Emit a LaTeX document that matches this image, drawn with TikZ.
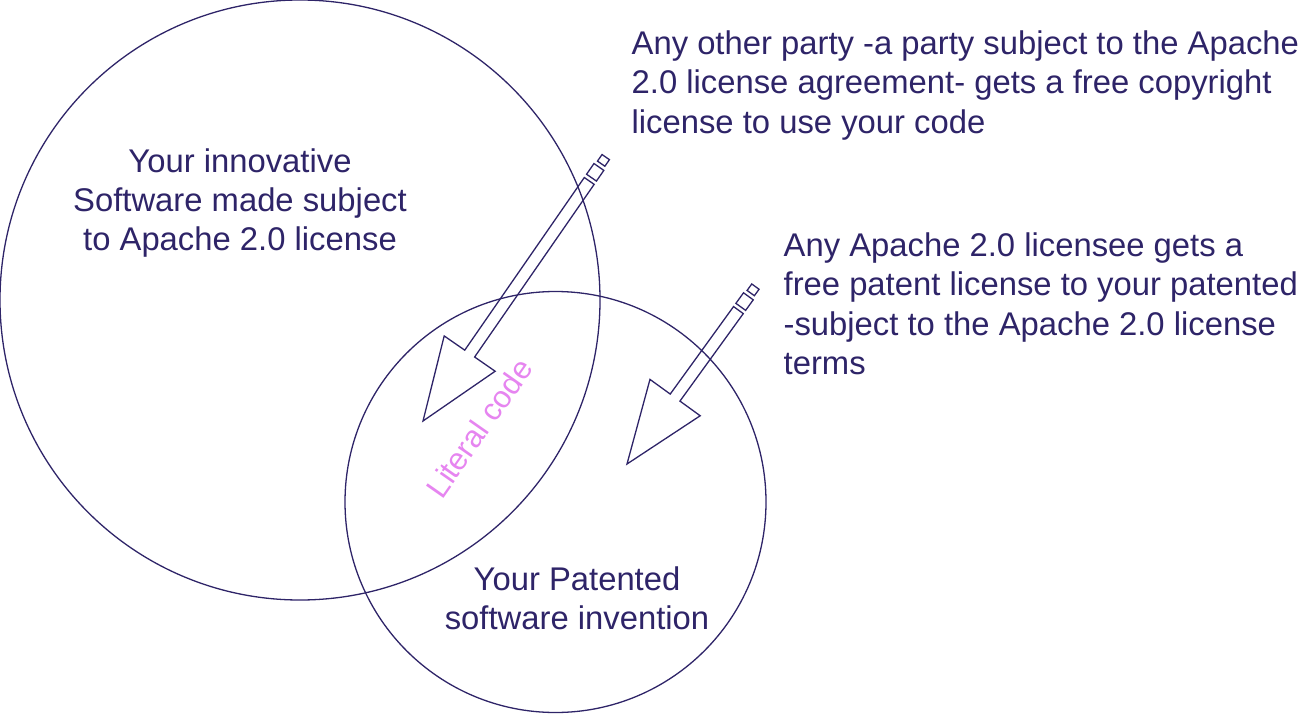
\documentclass[tikz,border=0pt]{standalone}
\usepackage{fontspec}
\setmainfont{Liberation Sans}
\definecolor{navy}{HTML}{2E2468}
\definecolor{pink}{HTML}{E685F0}
\begin{document}
\begin{tikzpicture}[x=1pt,y=-1pt,line width=1.3pt,
  lbl/.style={font=\fontsize{32.8}{39.3}\selectfont,text=navy,inner sep=0pt},
  ring/.style={draw=navy,circle,minimum size=#1,inner sep=0pt},
  blk/.style={draw=navy,line join=miter}]
\useasboundingbox (0,0) rectangle (1308,714);
\node[ring=600pt] (big) at (300,300) {};
\node[ring=421pt] (small) at (555.5,502) {};
\node[lbl,align=center] (t1) at (240,203) {Your innovative\\Software made subject\\to Apache 2.0 license};
\node[lbl,align=center] (t2) at (577,598) {Your Patented\\software invention};
\node[lbl,align=left,anchor=north west] (t3) at (631,30) {Any other party -a party subject to the Apache\\2.0 license agreement- gets a free copyright\\license to use your code};
\node[lbl,align=left,anchor=north west] (t4) at (783,232) {Any Apache 2.0 licensee gets a\\free patent license to your patented\\-subject to the Apache 2.0 license\\terms};
\node[lbl,text=pink,rotate=55,font=\fontsize{31}{36}\selectfont] (lit) at (479,428) {Literal code};
% arrow 1
\begin{scope}[shift={(423,421)},rotate=55.3]
\draw[blk] (0,0) -- (82,31) -- (82,6) -- (292,6) -- (292,-6) -- (82,-6) -- (82,-31) -- cycle;
\draw[blk] (296,6) rectangle (309,-6);
\draw[blk] (313,4.5) rectangle (321,-4.5);
\end{scope}
% arrow 2
\begin{scope}[shift={(627,464)},rotate=54.1]
\draw[blk] (0,0) -- (82,31) -- (82,6) -- (190,6) -- (190,-6) -- (82,-6) -- (82,-31) -- cycle;
\draw[blk] (194,6) rectangle (207,-6);
\draw[blk] (211,4.5) rectangle (219,-4.5);
\end{scope}
\end{tikzpicture}
\end{document}
